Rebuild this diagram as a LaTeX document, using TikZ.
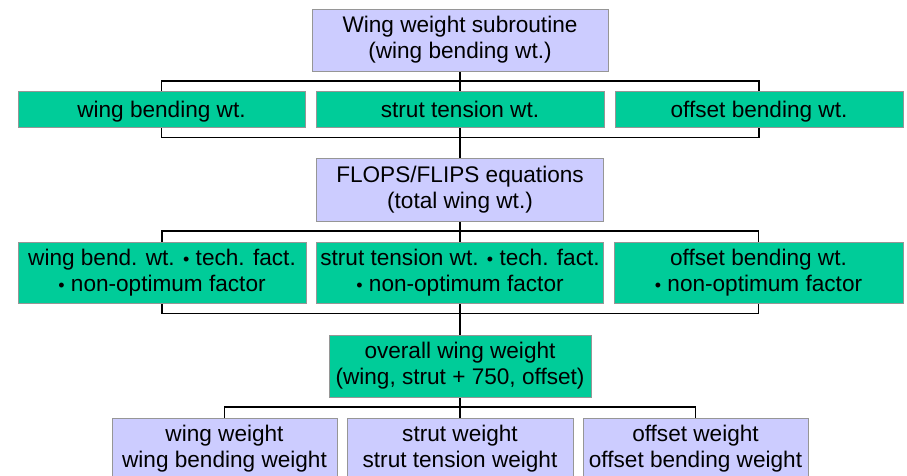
\documentclass[tikz,border=0pt]{standalone}
\usepackage{fontspec}
\setmainfont{Liberation Sans}
\usetikzlibrary{backgrounds}
\definecolor{boxlilac}{HTML}{CCCCFF}
\definecolor{boxgreen}{HTML}{00CC99}
\definecolor{boxedge}{HTML}{969696}
% small multiplication dot used between factors
\newcommand\factordot{{\fontsize{18pt}{18pt}\selectfont •}}

\begin{document}
\begin{tikzpicture}[x=1pt,y=-1pt,
  every node/.style={font=\fontsize{22.6pt}{26pt}\selectfont, align=center, inner sep=0pt},
  boxbase/.style={rectangle, draw=boxedge, line width=0.8pt},
  lilacbox/.style={boxbase, fill=boxlilac},
  greenbox/.style={boxbase, fill=boxgreen},
  oneline/.style={text height=16.2pt, text depth=0pt},
  link/.style={draw=black, line width=1.8pt}]

\useasboundingbox (0,0) rectangle (907,475);
\clip (0,0) rectangle (907,475);

% level 1
\node[lilacbox, minimum width=296, minimum height=62] (sub) at (460,40)
  {Wing weight subroutine\\(wing bending wt.)};

% level 2
\node[greenbox, oneline, minimum width=287, minimum height=36] (l2) at (161.5,109) {wing bending wt.};
\node[greenbox, oneline, minimum width=288, minimum height=36] (m2) at (460,109) {strut tension wt.};
\node[greenbox, oneline, minimum width=288, minimum height=36] (r2) at (759,109) {offset bending wt.};

% level 3
\node[lilacbox, minimum width=287, minimum height=63] (flops) at (460,189.5)
  {FLOPS/FLIPS equations\\(total wing wt.)};

% level 4
\node[greenbox, minimum width=288, minimum height=61] (l4) at (162,272.5)
  {wing bend. wt. \factordot{} tech. fact.\\\factordot{} non-optimum factor};
\node[greenbox, minimum width=287, minimum height=61] (m4) at (460,272.5)
  {strut tension wt. \factordot{} tech. fact.\\\factordot{} non-optimum factor};
\node[greenbox, minimum width=289, minimum height=61] (r4) at (758.5,272.5)
  {offset bending wt.\\\factordot{} non-optimum factor};

% level 5
\node[greenbox, minimum width=262, minimum height=62] (over) at (460,366)
  {overall wing weight\\(wing, strut + 750, offset)};

% level 6
\node[lilacbox, minimum width=225, minimum height=62] (bl) at (224.5,449)
  {wing weight\\wing bending weight};
\node[lilacbox, minimum width=226, minimum height=62] (bm) at (460,449)
  {strut weight\\strut tension weight};
\node[lilacbox, minimum width=225, minimum height=62] (br) at (695.5,449)
  {offset weight\\offset bending weight};

\begin{scope}[on background layer]
  % trunk
  \draw[link] (sub.south) -- (m2.north);
  \draw[link] (m2.south) -- (flops.north);
  \draw[link] (flops.south) -- (m4.north);
  \draw[link] (m4.south) -- (over.north);
  \draw[link] (over.south) -- (bm.north);
  % brackets
  \draw[link] (l2.north) -- ++(0,-10) -| (r2.north);
  \draw[link] (l2.south) -- ++(0,10) -| (r2.south);
  \draw[link] (l4.north) -- ++(0,-11) -| (r4.north);
  \draw[link] (l4.south) -- ++(0,10) -| (r4.south);
  \draw[link] (bl.north) -- ++(0,-11) -| (br.north);
\end{scope}
\end{tikzpicture}
\end{document}
